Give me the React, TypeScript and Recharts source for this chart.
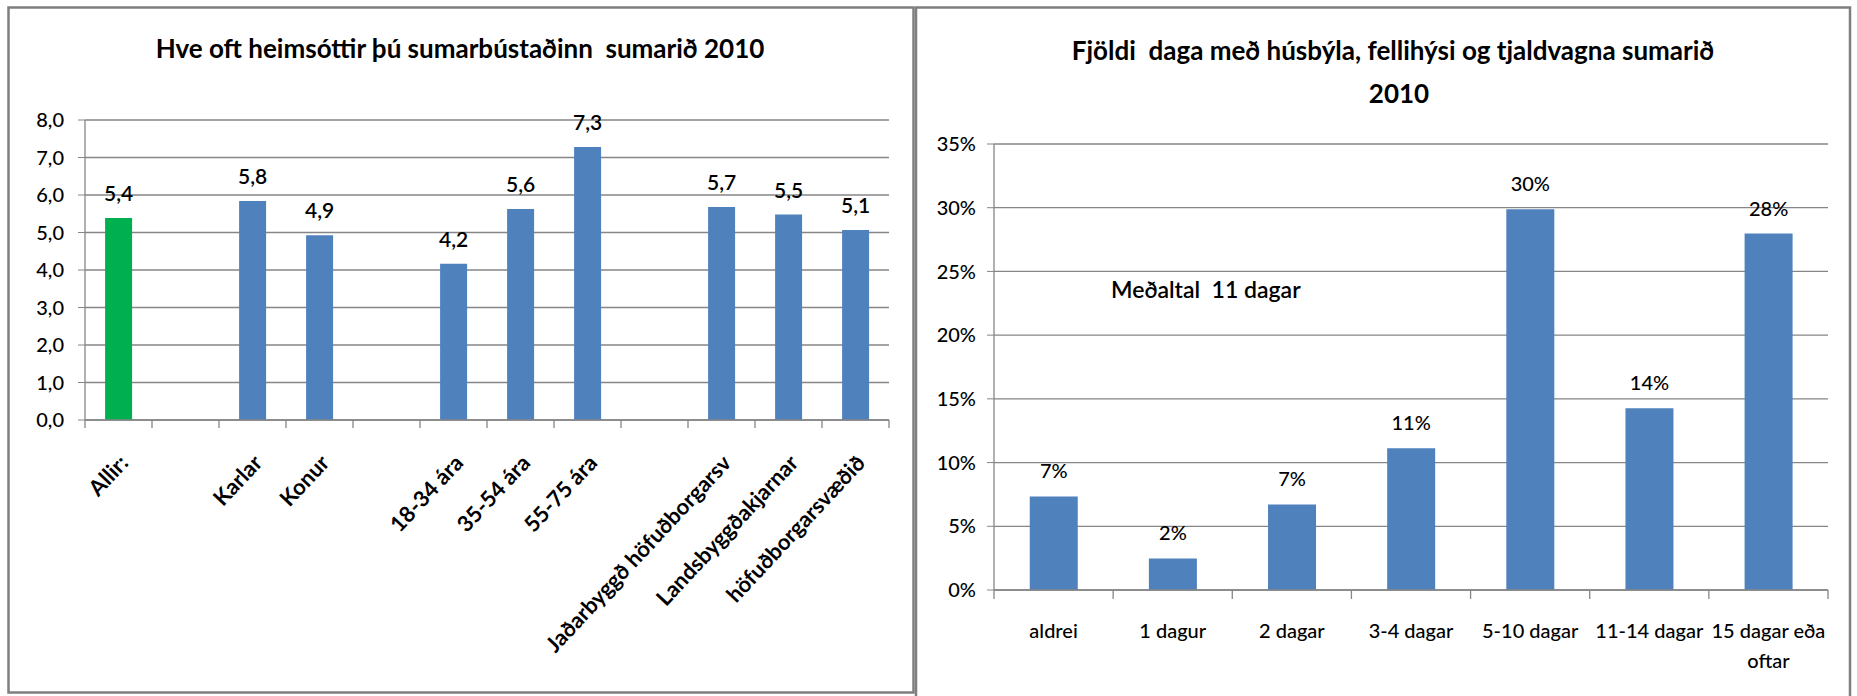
import React from "react";
import { Bar, BarChart, CartesianGrid, Cell, LabelList, Text, XAxis, YAxis } from "recharts";

const FONT = "Lato, 'Open Sans', sans-serif";
const BLUE = "#4F81BD";
const GREEN = "#00B050";
const GRID = "#868686";
const BORDER = "#7F7F7F";

// vinstri mynd: heimsóknir í sumarbústað
const visitCategories = [
  "Allir:", "", "Karlar", "Konur", "", "18-34 ára", "35-54 ára", "55-75 ára", "",
  "Jaðarbyggð höfuðborgarsv", "Landsbyggðakjarnar", "höfuðborgarsvæðið",
];
const visitValues = [5.39, null, 5.84, 4.93, null, 4.17, 5.63, 7.28, null, 5.68, 5.48, 5.07];
const visitTicks = [0, 1, 2, 3, 4, 5, 6, 7, 8];

// hægri mynd: fjöldi daga
const dayCategories = ["aldrei", "1 dagur", "2 dagar", "3-4 dagar", "5-10 dagar", "11-14 dagar", "15 dagar eða oftar"];
const dayValues = [7.34, 2.48, 6.71, 11.13, 29.88, 14.26, 27.97];
const dayTicks = [0, 5, 10, 15, 20, 25, 30, 35];

const visitData = visitCategories.map((name, i) => ({ name, value: visitValues[i] }));
const dayData = dayCategories.map((name, i) => ({ name, value: dayValues[i] }));

const comma1 = (v: number) => v.toFixed(1).replace(".", ",");

function VisitTick(props: any) {
  const { x, y, payload, index } = props;
  const half = payload?.offset || 33.5;
  const last = index === visitCategories.length - 1;
  return (
    <g>
      <line x1={x - half} x2={x - half} y1={y - 8} y2={y} stroke={GRID} strokeWidth={1.3} />
      {last && <line x1={x + half} x2={x + half} y1={y - 8} y2={y} stroke={GRID} strokeWidth={1.3} />}
      {payload.value && (
        <text
          transform={`translate(${x + 11},${y + 36}) rotate(-47)`}
          textAnchor="end"
          fontFamily={FONT}
          fontSize={22}
          fontWeight={700}
          fill="#000"
        >
          {payload.value}
        </text>
      )}
    </g>
  );
}

function DayTick(props: any) {
  const { x, y, payload, index } = props;
  const half = payload?.offset || 59.5;
  const last = index === dayCategories.length - 1;
  return (
    <g>
      <line x1={x - half} x2={x - half} y1={y - 9} y2={y} stroke={GRID} strokeWidth={1.3} />
      {last && <line x1={x + half} x2={x + half} y1={y - 9} y2={y} stroke={GRID} strokeWidth={1.3} />}
      <Text
        x={x}
        y={y + 25}
        width={half * 2 - 2}
        lineHeight={30}
        verticalAnchor="start"
        textAnchor="middle"
        fontFamily={FONT}
        fontSize={20}
        fontWeight={500}
        fill="#000"
        style={{ fontFamily: FONT, fontSize: 20, fontWeight: 500 }}
      >
        {payload.value}
      </Text>
    </g>
  );
}

const visitLabel = (p: any) => {
  if (p.value == null) return null;
  return (
    <text x={p.x + p.width / 2} y={p.y - 17} textAnchor="middle" fontFamily={FONT} fontSize={21} fontWeight={600} fill="#000">
      {comma1(p.value)}
    </text>
  );
};

const dayLabel = (p: any) => (
  <text x={p.x + p.width / 2} y={p.y - 18} textAnchor="middle" fontFamily={FONT} fontSize={20} fontWeight={500} fill="#000">
    {Math.round(p.value)}%
  </text>
);

const pre = { whiteSpace: "pre" } as const;

export default function App() {
  return (
    <div style={{ position: "absolute", left: 0, top: 0, width: 1857, height: 696, background: "#fff", overflow: "hidden" }}>
      <div style={{ position: "absolute", left: 0, top: 0 }}>
        <BarChart width={914} height={696} data={visitData} margin={{ top: 120, right: 25, bottom: 76, left: 25 }} barCategoryGap="30%">
          <CartesianGrid stroke={GRID} strokeWidth={1.3} vertical={false} />
          <XAxis
            dataKey="name"
            interval={0}
            height={200}
            tickLine={false}
            tickSize={8}
            tickMargin={0}
            axisLine={{ stroke: GRID, strokeWidth: 1.3 }}
            tick={<VisitTick />}
          />
          <YAxis
            width={60}
            domain={[0, 8]}
            ticks={visitTicks}
            interval={0}
            tickFormatter={comma1}
            tickSize={7}
            tickMargin={14}
            tickLine={{ stroke: GRID }}
            axisLine={{ stroke: GRID, strokeWidth: 1.3 }}
            tick={{ fill: "#000", fontSize: 20, fontFamily: FONT, fontWeight: 500 }}
          />
          <Bar dataKey="value" isAnimationActive={false}>
            {visitData.map((_, i) => (
              <Cell key={i} fill={i === 0 ? GREEN : BLUE} />
            ))}
            <LabelList dataKey="value" content={visitLabel} />
          </Bar>
        </BarChart>
      </div>

      <div style={{ position: "absolute", left: 914, top: 0 }}>
        <BarChart width={943} height={696} data={dayData} margin={{ top: 144, right: 29, bottom: 26, left: 10 }} barCategoryGap="30%">
          <CartesianGrid stroke={GRID} strokeWidth={1.3} vertical={false} />
          <XAxis
            dataKey="name"
            interval={0}
            height={80}
            tickLine={false}
            tickSize={9}
            tickMargin={0}
            axisLine={{ stroke: GRID, strokeWidth: 1.3 }}
            tick={<DayTick />}
          />
          <YAxis
            width={70}
            domain={[0, 35]}
            ticks={dayTicks}
            interval={0}
            tickFormatter={(v: number) => `${v}%`}
            tickSize={7}
            tickMargin={11}
            tickLine={{ stroke: GRID }}
            axisLine={{ stroke: GRID, strokeWidth: 1.3 }}
            tick={{ fill: "#000", fontSize: 20, fontFamily: FONT, fontWeight: 500 }}
          />
          <Bar dataKey="value" fill={BLUE} isAnimationActive={false}>
            <LabelList dataKey="value" content={dayLabel} />
          </Bar>
        </BarChart>
      </div>

      <svg width={1857} height={696} style={{ position: "absolute", left: 0, top: 0, pointerEvents: "none" }}>
        <rect x={8.5} y={7.5} width={905} height={685} fill="none" stroke={BORDER} strokeWidth={2.5} />
        <polyline points="916,696 916,7.5 1850,7.5 1850,696" fill="none" stroke={BORDER} strokeWidth={2.5} />
        <g fontFamily={FONT} fontWeight={700} fontSize={26} fill="#000" textAnchor="middle">
          <text x={460} y={58} style={pre}>Hve oft heimsóttir þú sumarbústaðinn  sumarið 2010</text>
          <text x={1393} y={60} style={pre}>Fjöldi  daga með húsbýla, fellihýsi og tjaldvagna sumarið</text>
          <text x={1399} y={103} style={pre}>2010</text>
        </g>
        <text x={1111} y={298} fontFamily={FONT} fontWeight={600} fontSize={23} fill="#000" style={pre}>
          Meðaltal  11 dagar
        </text>
      </svg>
    </div>
  );
}
